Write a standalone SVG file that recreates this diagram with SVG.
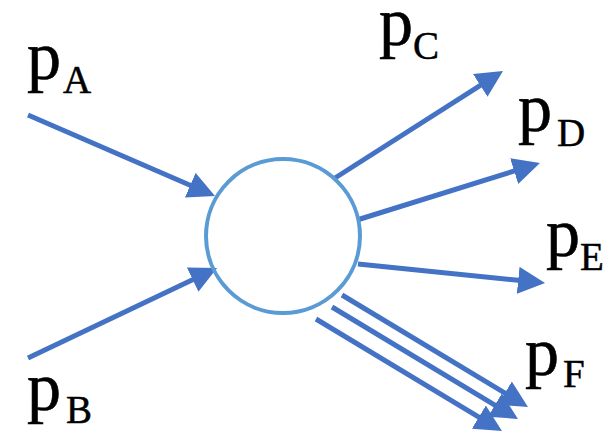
<svg xmlns="http://www.w3.org/2000/svg" width="613" height="433" viewBox="0 0 613 433">
  <style>
    .arrow { stroke: #4472C4; stroke-width: 5; fill: none; marker-end: url(#head); }
    .main { font-family: "Liberation Serif", "DejaVu Serif", serif; font-size: 68px; fill: #000; stroke: #000; stroke-width: 0.6; }
    .sub { font-family: "Liberation Serif", "DejaVu Serif", serif; font-size: 39px; fill: #000; stroke: #000; stroke-width: 0.5; }
  </style>
  <defs>
    <marker id="head" markerUnits="userSpaceOnUse" markerWidth="27" markerHeight="27" refX="15" refY="13.5" orient="auto">
      <path d="M0,0 L27,13.5 L0,27 z" fill="#4472C4"/>
    </marker>
  </defs>
  <rect width="613" height="433" fill="#fff"/>

  <g id="connectors">
    <line class="arrow" x1="28" y1="115" x2="204" y2="191.2"/>
    <line class="arrow" x1="28" y1="358" x2="206.2" y2="273.2"/>
    <line class="arrow" x1="335" y1="178" x2="492.9" y2="77.4"/>
    <line class="arrow" x1="357" y1="220" x2="528.5" y2="166.6"/>
    <line class="arrow" x1="358" y1="264" x2="533.1" y2="281.8"/>
    <line class="arrow" x1="342" y1="295" x2="517.7" y2="400.8"/>
    <line class="arrow" x1="332" y1="307" x2="507.7" y2="412.8"/>
    <line class="arrow" x1="316" y1="319" x2="491.7" y2="424.8"/>
  </g>

  <g id="vertex">
    <circle cx="283" cy="236" r="77" fill="none" stroke="#5B9BD5" stroke-width="4"/>
  </g>

  <g id="label-A"><text class="main" x="27" y="79">p</text><text class="sub" x="63" y="93">A</text></g>
  <g id="label-B"><text class="main" x="27" y="410">p</text><text class="sub" x="66" y="423">B</text></g>
  <g id="label-C"><text class="main" x="379" y="45">p</text><text class="sub" x="413" y="59">C</text></g>
  <g id="label-D"><text class="main" x="518" y="131">p</text><text class="sub" x="557" y="146">D</text></g>
  <g id="label-E"><text class="main" x="546" y="256">p</text><text class="sub" x="580" y="270">E</text></g>
  <g id="label-F"><text class="main" x="525" y="375">p</text><text class="sub" x="563" y="387">F</text></g>
</svg>
